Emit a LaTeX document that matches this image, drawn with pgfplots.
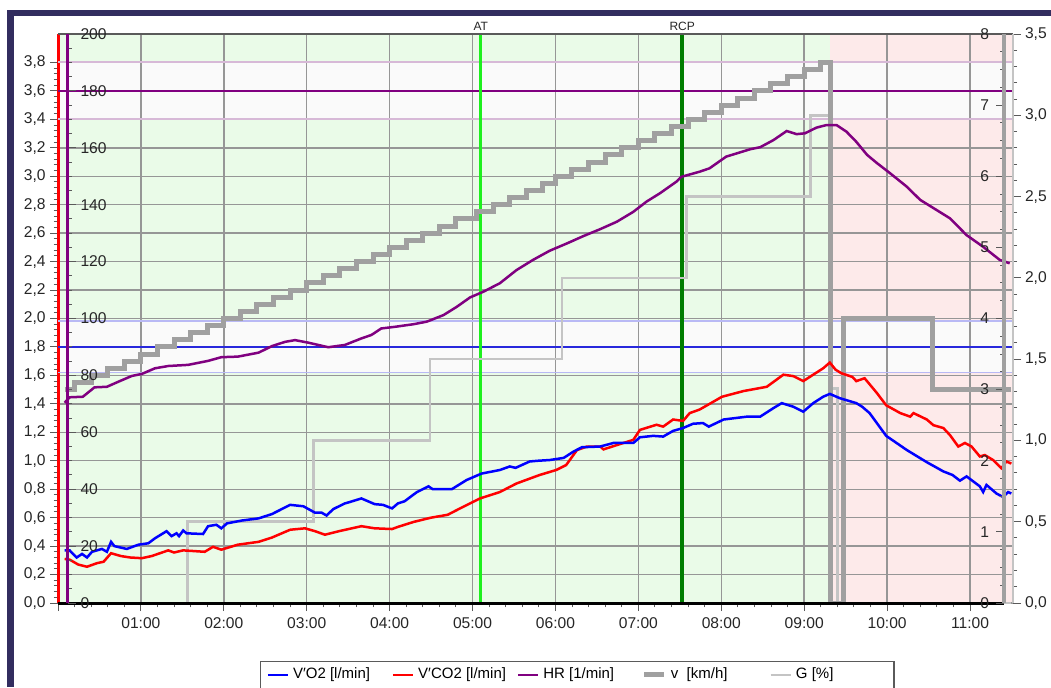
\documentclass[border=0pt]{standalone}
\usepackage{fontspec}
\setmainfont{Liberation Sans}
\usepackage{pgfplots}
\pgfplotsset{compat=1.18}

\definecolor{navyframe}{RGB}{50,45,95}
\definecolor{bggreen}{RGB}{234,251,232}
\definecolor{bgpink}{RGB}{253,234,234}
\definecolor{bandfill}{RGB}{250,250,250}
\definecolor{bandpurple}{RGB}{215,185,215}
\definecolor{bandblue}{RGB}{185,185,245}
\definecolor{gridgray}{RGB}{150,150,150}
\definecolor{vgray}{RGB}{160,160,160}
\definecolor{ggray}{RGB}{196,196,196}
\definecolor{hrpurple}{RGB}{128,0,128}
\definecolor{atgreen}{RGB}{30,240,30}
\definecolor{rcpgreen}{RGB}{0,125,0}
\definecolor{tickgray}{RGB}{90,90,90}
\definecolor{targetblue}{RGB}{40,40,220}

\pgfplotsset{
  base/.style={scale only axis, width=477.5pt, height=284.5pt, at={(29pt,42pt)}, anchor=south west, xmin=0, xmax=11.52},
  every tick label/.append style={font=\fontsize{7.8}{9.4}\selectfont, text=black!85},
  /pgf/number format/assume math mode=true,
}

\begin{document}
\begin{tikzpicture}
\path (0,0) rectangle (525.5pt,343.5pt);
\fill[navyframe] (3.4pt,0pt) rectangle (7pt,338.5pt);
\fill[navyframe] (3.4pt,335.3pt) rectangle (525.5pt,338.5pt);

% ---------- main axis: background, grid, left axis ----------
\begin{axis}[base, set layers, clip mode=individual, ymin=0, ymax=4,
  axis x line*=bottom, x axis line style={draw=none},
  xtick={1,2,3,4,5,6,7,8,9,10,11}, xticklabels={}, xtick style={draw=none},
  axis y line*=left, y axis line style={draw=red, line width=1.5pt},
  ytick={0,0.2,0.4,0.6,0.8,1,1.2,1.4,1.6,1.8,2,2.2,2.4,2.6,2.8,3,3.2,3.4,3.6,3.8},
  minor y tick num=4, yticklabel style={xshift=1.3pt},
  xmajorgrids, ymajorgrids, grid style={gridgray, line width=0.7pt},
  tick align=outside, major tick length=4pt, minor tick length=2.2pt,
  ytick style={tickgray, line width=0.5pt},
  /pgf/number format/fixed, /pgf/number format/fixed zerofill,
  /pgf/number format/precision=1, /pgf/number format/use comma,
  /pgf/number format/assume math mode=true,
]
\addplot[on layer=axis background, draw=none, fill=bggreen] coordinates {(0,4) (9.31,4)} \closedcycle;
\addplot[on layer=axis background, draw=none, fill=bgpink] coordinates {(9.31,4) (11.52,4)} \closedcycle;
\addplot[on layer=axis background, draw=none, fill=bandfill] coordinates {(0,3.4) (11.52,3.4) (11.52,3.8) (0,3.8)} -- cycle;
\addplot[on layer=axis background, draw=none, fill=bandfill] coordinates {(0,1.62) (11.52,1.62) (11.52,1.98) (0,1.98)} -- cycle;
\addplot[bandpurple, line width=1pt] coordinates {(0,3.4) (11.52,3.4)};
\addplot[bandpurple, line width=1pt] coordinates {(0,3.8) (11.52,3.8)};
\addplot[hrpurple, line width=0.9pt] coordinates {(0,3.6) (11.52,3.6)};
\addplot[bandblue, line width=0.9pt] coordinates {(0,1.62) (11.52,1.62)};
\addplot[bandblue, line width=0.9pt] coordinates {(0,1.98) (11.52,1.98)};
\addplot[targetblue, line width=0.8pt] coordinates {(0,1.8) (11.52,1.8)};
\addplot[atgreen, line width=1.5pt] coordinates {(5.10,0) (5.10,4)};
\addplot[rcpgreen, line width=2pt] coordinates {(7.53,0) (7.53,4)};
\draw[tickgray, line width=0.6pt] (rel axis cs:0,1) -- (rel axis cs:1,1);
\node[anchor=base, inner sep=0pt, font=\fontsize{6}{7}\selectfont, text=black!85] at ([yshift=1.6pt]axis cs:5.10,4) {AT};
\node[anchor=base, inner sep=0pt, font=\fontsize{6}{7}\selectfont, text=black!85] at ([yshift=1.6pt]axis cs:7.53,4) {RCP};
\end{axis}

% ---------- G [%] ----------
\begin{axis}[base, ymin=0, ymax=3.5, hide axis]
\addplot[ggray, line width=1.25pt, const plot] coordinates {
(0.08,0) (1.56,0.5) (3.08,1.0) (4.49,1.5) (6.08,2.0) (7.58,2.5) (9.08,3.0) (9.33,1.32) (9.40,0) (11.5,0)};
\end{axis}

% ---------- v [km/h] ----------
\begin{axis}[base, ymin=0, ymax=8, hide axis]
\addplot[vgray, line width=2.5pt, const plot] coordinates {
(0.08,3.0) (0.2,3.1) (0.4,3.2) (0.6,3.3) (0.8,3.4) (1.0,3.5) (1.2,3.6) (1.4,3.7) (1.6,3.8) (1.8,3.9)
(2.0,4.0) (2.2,4.1) (2.4,4.2) (2.6,4.3) (2.8,4.4) (3.0,4.5) (3.2,4.6) (3.4,4.7) (3.6,4.8) (3.8,4.9)
(4.0,5.0) (4.2,5.1) (4.4,5.2) (4.6,5.3) (4.8,5.4) (5.05,5.5) (5.25,5.6) (5.45,5.7) (5.65,5.8) (5.85,5.9)
(6.0,6.0) (6.2,6.1) (6.4,6.2) (6.6,6.3) (6.8,6.4) (7.0,6.5) (7.2,6.6) (7.4,6.7) (7.6,6.8) (7.8,6.9)
(8.0,7.0) (8.2,7.1) (8.4,7.2) (8.6,7.3) (8.8,7.4) (9.0,7.5) (9.2,7.6) (9.32,0) (9.48,4.0) (10.55,3.0) (11.5,3.0)};
\end{axis}

% ---------- HR [1/min] ----------
\begin{axis}[base, ymin=0, ymax=200, hide axis]
\addplot[hrpurple, line width=1.25pt] coordinates {
(0.08,70.4) (0.14,72.3) (0.30,72.5) (0.44,75.8) (0.59,76.0) (0.73,77.8) (0.89,79.8) (1.01,80.5)
(1.17,82.5) (1.33,83.3) (1.57,83.7) (1.81,85.1) (1.97,86.4) (2.17,86.6) (2.42,88.0) (2.58,90.3)
(2.74,91.8) (2.86,92.4) (3.02,91.5) (3.14,90.7) (3.26,89.9) (3.46,90.7) (3.66,93.0) (3.78,94.2)
(3.90,96.5) (4.07,97.1) (4.29,98.0) (4.45,98.9) (4.65,101.2) (4.81,104.1) (4.97,107.4) (5.13,109.4)
(5.33,112.4) (5.53,117.0) (5.73,120.6) (5.93,123.8) (6.14,126.4) (6.34,129.0) (6.54,131.4) (6.74,134.0)
(6.94,137.5) (7.10,141.1) (7.26,144.0) (7.46,148.1) (7.52,149.8) (7.74,151.6) (7.86,152.8) (8.06,156.9)
(8.35,159.5) (8.47,160.2) (8.63,162.7) (8.79,165.9) (8.91,164.8) (9.01,165.1) (9.15,167.1) (9.27,168.0)
(9.39,168.0) (9.51,165.7) (9.63,162.1) (9.76,157.5) (9.88,154.6) (10.04,151.0) (10.24,146.3) (10.40,141.7)
(10.60,138.1) (10.76,135.2) (10.96,129.3) (11.16,125.2) (11.36,120.6) (11.48,119.4)};
\end{axis}

% ---------- V'O2, V'CO2 [l/min] + legend ----------
\begin{axis}[base, ymin=0, ymax=4, hide axis,
  legend style={at={(0.2115,-0.1019)}, anchor=north west, legend columns=5,
    draw=tickgray, line width=0.6pt, fill=white, inner xsep=3pt, inner ysep=1.2pt,
    font=\fontsize{7.5}{9}\selectfont, /tikz/every even column/.append style={column sep=0pt}},
  legend image code/.code={\draw[#1] (0pt,0pt) -- (10pt,0pt);},
]
\addplot[red, line width=1.25pt, forget plot] coordinates {
(0.08,0.31) (0.14,0.305) (0.245,0.27) (0.35,0.255) (0.47,0.28) (0.55,0.29) (0.64,0.35) (0.76,0.33)
(0.87,0.32) (1.01,0.315) (1.13,0.33) (1.33,0.37) (1.40,0.355) (1.51,0.37) (1.77,0.36) (1.87,0.395)
(1.97,0.375) (2.17,0.41) (2.42,0.43) (2.58,0.46) (2.80,0.515) (2.98,0.525) (3.10,0.505) (3.22,0.48)
(3.39,0.505) (3.66,0.54) (3.82,0.525) (4.03,0.52) (4.10,0.535) (4.29,0.57) (4.50,0.60) (4.70,0.62)
(4.85,0.665) (5.09,0.735) (5.33,0.78) (5.53,0.84) (5.81,0.90) (6.01,0.935) (6.13,0.97) (6.26,1.075)
(6.38,1.10) (6.54,1.10) (6.58,1.08) (6.74,1.11) (6.94,1.147) (7.02,1.217) (7.22,1.253) (7.30,1.24)
(7.42,1.29) (7.54,1.28) (7.62,1.335) (7.74,1.36) (8.01,1.45) (8.27,1.49) (8.55,1.52) (8.75,1.605)
(8.87,1.595) (8.99,1.56) (9.11,1.605) (9.23,1.65) (9.31,1.69) (9.38,1.64) (9.45,1.615) (9.58,1.59)
(9.63,1.56) (9.73,1.58) (9.88,1.475) (9.99,1.39) (10.16,1.335) (10.28,1.31) (10.32,1.335) (10.48,1.29)
(10.56,1.25) (10.68,1.23) (10.76,1.18) (10.86,1.10) (10.94,1.125) (11.02,1.10) (11.12,1.03) (11.18,1.04)
(11.28,1.005) (11.38,0.948) (11.44,0.995) (11.50,0.98)};
\addplot[blue, line width=1.25pt, forget plot] coordinates {
(0.08,0.37) (0.14,0.37) (0.225,0.32) (0.29,0.345) (0.35,0.32) (0.41,0.36) (0.53,0.38) (0.59,0.36)
(0.64,0.43) (0.68,0.40) (0.83,0.38) (0.97,0.41) (1.09,0.42) (1.17,0.455) (1.31,0.505) (1.37,0.47)
(1.43,0.49) (1.46,0.47) (1.51,0.51) (1.55,0.49) (1.75,0.485) (1.81,0.54) (1.91,0.55) (1.97,0.525)
(2.04,0.56) (2.22,0.58) (2.42,0.595) (2.58,0.625) (2.80,0.69) (2.96,0.68) (3.10,0.635) (3.18,0.635)
(3.24,0.615) (3.32,0.66) (3.46,0.70) (3.52,0.71) (3.66,0.735) (3.82,0.695) (3.92,0.69) (4.03,0.665)
(4.10,0.70) (4.18,0.715) (4.33,0.78) (4.47,0.82) (4.52,0.80) (4.75,0.80) (4.93,0.865) (5.11,0.91)
(5.33,0.935) (5.45,0.96) (5.52,0.95) (5.69,0.995) (5.79,1.00) (5.93,1.005) (6.10,1.02) (6.22,1.065)
(6.32,1.095) (6.54,1.10) (6.70,1.125) (6.94,1.125) (7.02,1.165) (7.18,1.175) (7.30,1.17) (7.42,1.21)
(7.54,1.23) (7.66,1.26) (7.78,1.265) (7.85,1.24) (8.03,1.29) (8.31,1.31) (8.47,1.31) (8.63,1.37)
(8.73,1.405) (8.87,1.38) (8.99,1.345) (9.11,1.405) (9.23,1.45) (9.31,1.47) (9.43,1.44) (9.63,1.405)
(9.70,1.38) (9.79,1.335) (9.99,1.175) (10.24,1.075) (10.48,0.99) (10.68,0.925) (10.79,0.90) (10.88,0.86)
(10.96,0.89) (11.12,0.82) (11.16,0.78) (11.20,0.83) (11.32,0.77) (11.40,0.745) (11.46,0.78) (11.50,0.77)};
\addlegendimage{blue, line width=1.25pt}
\addlegendentry{\makebox[47.3pt][l]{V′O2 [l/min]}}
\addlegendimage{red, line width=1.25pt}
\addlegendentry{\makebox[47.3pt][l]{V′CO2 [l/min]}}
\addlegendimage{hrpurple, line width=1.25pt}
\addlegendentry{\makebox[47.3pt][l]{HR [1/min]}}
\addlegendimage{vgray, line width=2.5pt}
\addlegendentry{\makebox[47.3pt][l]{v\ \ [km/h]}}
\addlegendimage{ggray, line width=1.25pt}
\addlegendentry{\makebox[44pt][l]{G [\%]}}
\end{axis}

% ---------- bottom time axis ----------
\begin{axis}[scale only axis, width=473pt, height=2pt, at={(29pt,42pt)}, anchor=south west,
  xmin=0, xmax=11.41, ymin=0, ymax=1, hide y axis,
  axis x line*=bottom, x axis line style={black, line width=1.5pt},
  xtick={0,1,2,3,4,5,6,7,8,9,10,11},
  xticklabels={,01:00,02:00,03:00,04:00,05:00,06:00,07:00,08:00,09:00,10:00,11:00},
  minor x tick num=4, tick align=outside, major tick length=4pt, minor tick length=2.2pt,
  xtick style={tickgray, line width=0.5pt}]
\addplot[draw=none] coordinates {(0,0)};
\end{axis}

% ---------- HR tick axis ----------
\begin{axis}[scale only axis, width=2pt, height=284.5pt, at={(31.75pt,42pt)}, anchor=south west,
  xmin=0, xmax=1, ymin=0, ymax=200, hide x axis,
  axis y line*=right, y axis line style={hrpurple, line width=1.5pt},
  ytick={0,20,40,60,80,100,120,140,160,180,200}, minor y tick num=3,
  tick align=outside, major tick length=4pt, minor tick length=2pt,
  ytick style={tickgray, line width=0.5pt}, yticklabel style={xshift=-1pt},
  /pgf/number format/assume math mode=true]
\addplot[draw=none] coordinates {(0,0)};
\end{axis}

% ---------- v tick axis ----------
\begin{axis}[scale only axis, width=2pt, height=284.5pt, at={(502pt,42pt)}, anchor=south west,
  xmin=0, xmax=1, ymin=0, ymax=8, hide x axis,
  axis y line*=left, y axis line style={vgray, line width=2pt},
  ytick={0,1,2,3,4,5,6,7,8}, minor y tick num=3,
  tick align=outside, major tick length=4pt, minor tick length=2pt,
  ytick style={tickgray, line width=0.5pt},
  /pgf/number format/assume math mode=true]
\addplot[draw=none] coordinates {(0,0)};
\end{axis}

% ---------- G tick axis ----------
\begin{axis}[scale only axis, width=2pt, height=284.5pt, at={(504.5pt,42pt)}, anchor=south west,
  xmin=0, xmax=1, ymin=0, ymax=3.5, hide x axis,
  axis y line*=right, y axis line style={ggray, line width=1pt},
  ytick={0,0.5,1,1.5,2,2.5,3,3.5}, minor y tick num=4,
  tick align=outside, major tick length=4pt, minor tick length=2pt,
  ytick style={tickgray, line width=0.5pt}, yticklabel style={xshift=-1.5pt},
  /pgf/number format/fixed, /pgf/number format/fixed zerofill,
  /pgf/number format/precision=1, /pgf/number format/use comma,
  /pgf/number format/assume math mode=true]
\addplot[draw=none] coordinates {(0,0)};
\end{axis}
\pgfresetboundingbox
\path[use as bounding box] (0,0) rectangle (525.5pt,343.5pt);
\end{tikzpicture}
\end{document}
